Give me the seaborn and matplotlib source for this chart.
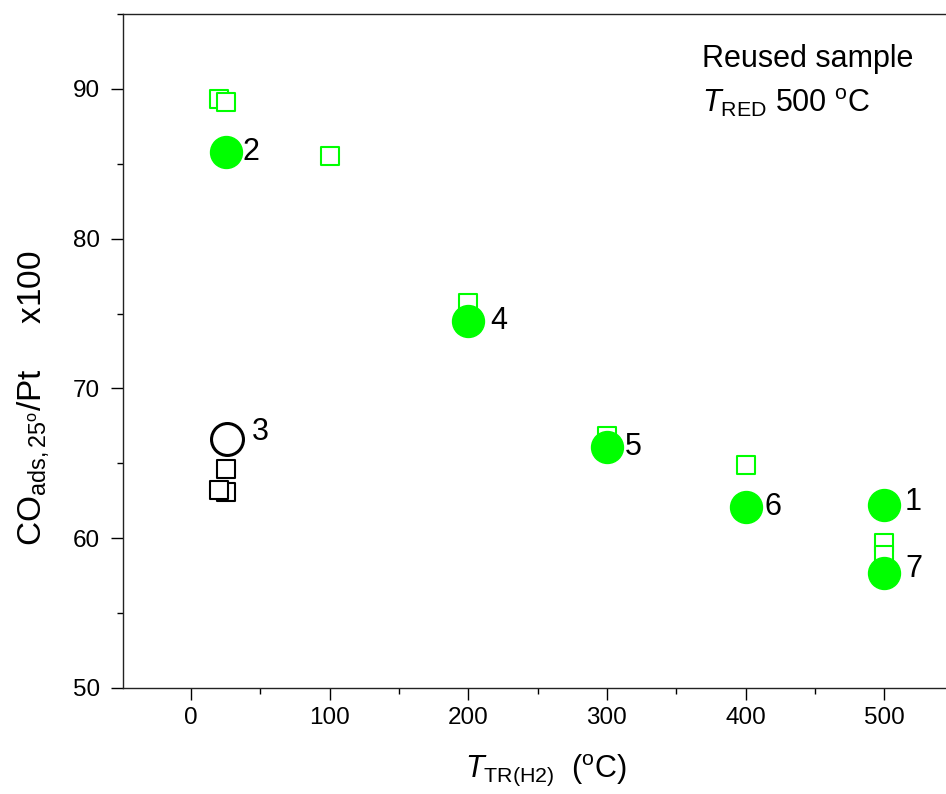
import matplotlib
matplotlib.use("Agg")
import matplotlib.pyplot as plt
import seaborn as sns
import pandas as pd
from matplotlib.ticker import MultipleLocator

# ---- data ----
circ_green_x = [25, 200, 300, 400, 500, 500]
circ_green_y = [85.8, 74.5, 66.1, 62.1, 62.2, 57.7]
circ_green_lab = ["2", "4", "5", "6", "1", "7"]

circ_black_x = [26]
circ_black_y = [66.6]
circ_black_lab = ["3"]

sq_green_x = [20, 25, 100, 200, 300, 400, 500, 500]
sq_green_y = [89.3, 89.1, 85.5, 75.7, 66.8, 64.9, 59.7, 58.9]

sq_black_x = [25, 25, 20]
sq_black_y = [64.6, 63.1, 63.2]

x_ticks = [0, 100, 200, 300, 400, 500]
y_ticks = [50, 60, 70, 80, 90]

# ---- style ----
sns.set_style("ticks")
plt.rcParams["font.family"] = ["Liberation Sans", "DejaVu Sans"]
plt.rcParams["mathtext.fontset"] = "custom"
plt.rcParams["mathtext.rm"] = "Liberation Sans"
plt.rcParams["mathtext.it"] = "Liberation Sans:italic"
plt.rcParams["mathtext.bf"] = "Liberation Sans:bold"
plt.rcParams["mathtext.sf"] = "Liberation Sans"
for key in ["text.color", "axes.labelcolor", "xtick.color", "ytick.color"]:
    plt.rcParams[key] = "black"

GREEN = "#00FF00"

fig = plt.figure(figsize=(9.46, 7.94), dpi=100)
ax = fig.add_axes([123 / 946, 106 / 794, 823 / 946, 674 / 794])

df_sg = pd.DataFrame({"x": sq_green_x, "y": sq_green_y})
df_sb = pd.DataFrame({"x": sq_black_x, "y": sq_black_y})
df_cg = pd.DataFrame({"x": circ_green_x, "y": circ_green_y})
df_cb = pd.DataFrame({"x": circ_black_x, "y": circ_black_y})

sq_size = 13 ** 2
c_size = 23 ** 2
sns.scatterplot(data=df_sg, x="x", y="y", ax=ax, marker="s", s=sq_size,
                facecolor="white", edgecolor=GREEN, linewidth=1.5, zorder=3)
sns.scatterplot(data=df_sb, x="x", y="y", ax=ax, marker="s", s=sq_size,
                facecolor="white", edgecolor="black", linewidth=1.5, zorder=3)
sns.scatterplot(data=df_cg, x="x", y="y", ax=ax, marker="o", s=c_size,
                facecolor=GREEN, edgecolor=GREEN, linewidth=1.0, zorder=4)
sns.scatterplot(data=df_cb, x="x", y="y", ax=ax, marker="o", s=c_size,
                facecolor="white", edgecolor="black", linewidth=2.2, zorder=4)

# point labels
offsets = {"2": (12, 0), "4": (16, 0), "5": (13, 0), "6": (14, 0),
           "1": (15, 2.5), "7": (15, 3), "3": (18, 5)}
for xs, ys, labs in [(circ_green_x, circ_green_y, circ_green_lab),
                     (circ_black_x, circ_black_y, circ_black_lab)]:
    for xv, yv, lb in zip(xs, ys, labs):
        ax.annotate(lb, (xv, yv), xytext=offsets[lb], textcoords="offset points",
                    ha="left", va="center", fontsize=22, zorder=5)

ax.set_xlim(-49, 544.6)
ax.set_ylim(50, 95)
ax.set_xticks(x_ticks)
ax.set_yticks(y_ticks)
ax.xaxis.set_minor_locator(MultipleLocator(50))
ax.yaxis.set_minor_locator(MultipleLocator(5))
ax.tick_params(which="major", direction="out", length=8.5, width=1.0,
               labelsize=17.5, color="black")
ax.tick_params(which="minor", direction="out", length=4.3, width=1.0, color="black")
ax.tick_params(axis="x", which="major", pad=5)
ax.tick_params(axis="y", which="major", pad=8)

for side in ["left", "bottom", "top"]:
    ax.spines[side].set_visible(True)
    ax.spines[side].set_linewidth(1.0)
    ax.spines[side].set_color("#222222")
ax.spines["right"].set_visible(False)

ax.set_xlabel(r"$T_{\mathrm{TR(H2)}}$  ($^{\mathrm{o}}$C)", fontsize=22,
              ha="center", va="center")
ax.xaxis.set_label_coords((546 - 123) / 823, (688 - 770) / 674)
ax.set_ylabel(r"CO$_{\mathrm{ads,25^o}}$/Pt     x100", fontsize=24,
              rotation=90, ha="center", va="center")
ax.yaxis.set_label_coords((33 - 123) / 823, (688 - 398) / 674)

fig.text(702 / 946, 1 - 67 / 794, "Reused sample", fontsize=22,
         ha="left", va="baseline")
fig.text(702 / 946, 1 - 112 / 794, r"$T_{\mathrm{RED}}$ 500 $^{\mathrm{o}}$C",
         fontsize=22, ha="left", va="baseline")

fig.savefig("out.png", dpi=100)
